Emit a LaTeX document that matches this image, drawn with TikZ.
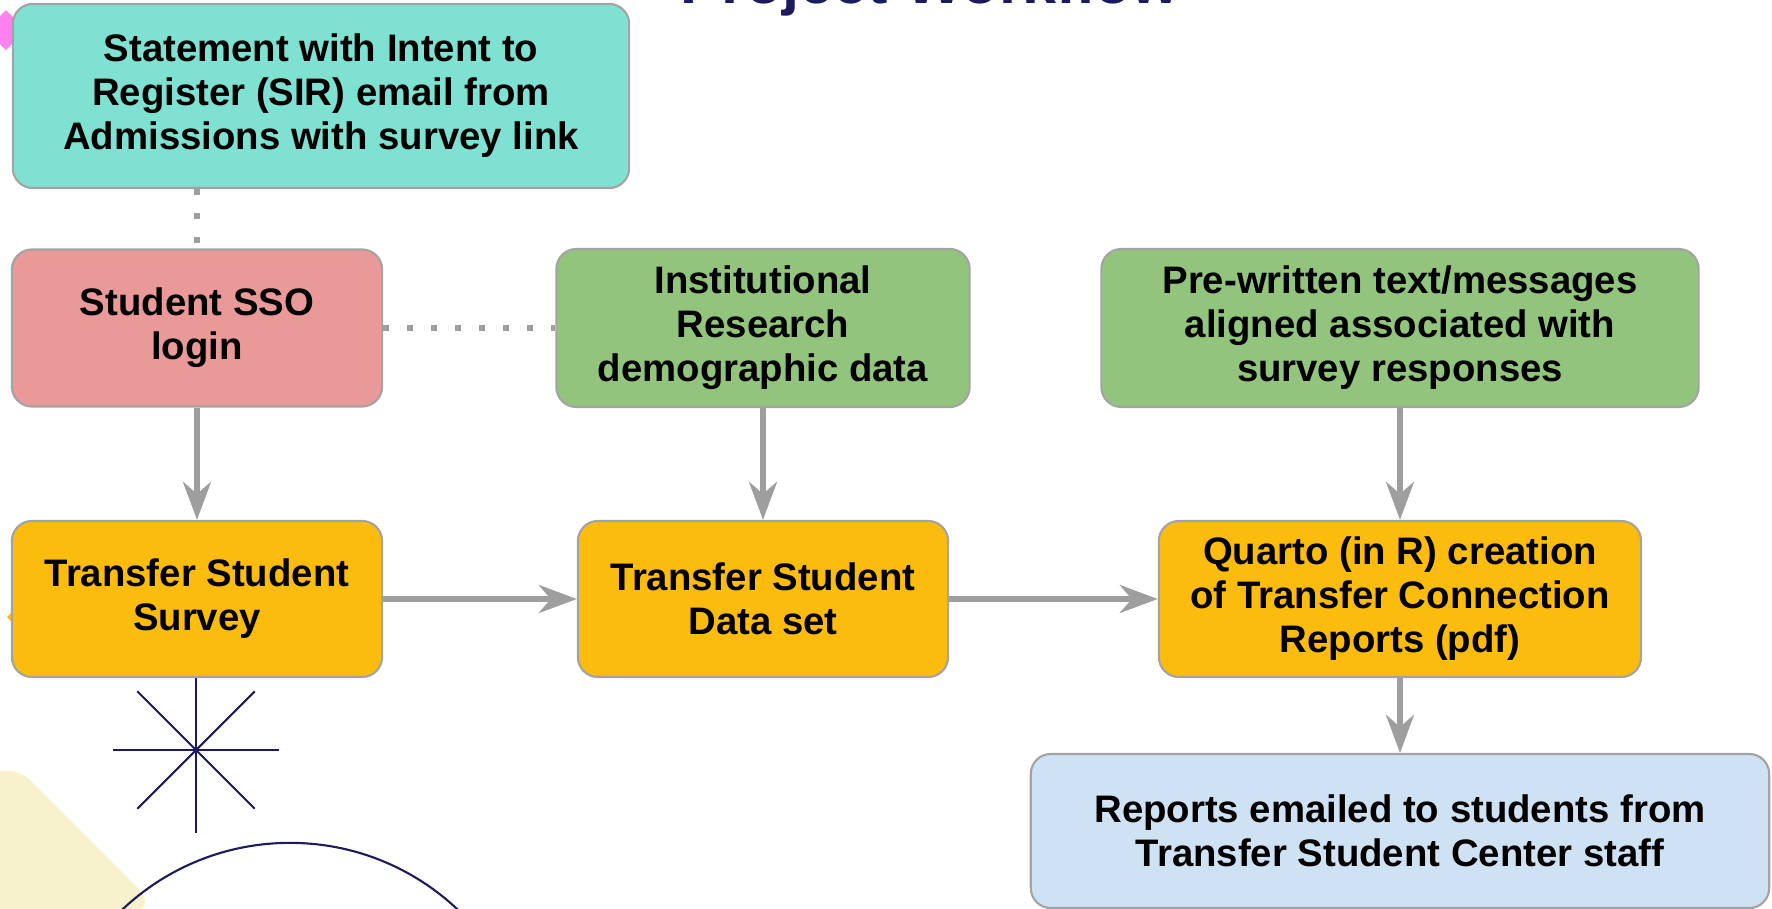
\documentclass[tikz,border=0pt]{standalone}
\usepackage{fontspec}
\setmainfont{Liberation Sans}
\usetikzlibrary{arrows.meta}

\definecolor{sirteal}{HTML}{7EE1D1}
\definecolor{ssopink}{HTML}{EA9999}
\definecolor{datagreen}{HTML}{93C47D}
\definecolor{flowyellow}{HTML}{FBBC0E}
\definecolor{mailblue}{HTML}{CFE2F3}
\definecolor{boxgray}{HTML}{A3A3A3}
\definecolor{arrowgray}{HTML}{9E9E9E}
\definecolor{decnavy}{HTML}{1C1B5E}
\definecolor{decpink}{HTML}{FF80F0}
\definecolor{decyellow}{HTML}{F7F2CC}

\begin{document}
\begin{tikzpicture}[
      x=0.01cm, y=-0.01cm,
      box/.style={rectangle, draw=boxgray, line width=0.6pt, rounded corners=0.2cm, align=center, inner sep=0pt, font=\bfseries\fontsize{10.9}{12.5}\selectfont},
      arrow/.style={-{Stealth[length=3.8mm, width=2.8mm, inset=1.2mm]}, line width=1.5pt, draw=arrowgray},
      dotline/.style={line width=0.06cm, draw=arrowgray, dash pattern=on 0.06cm off 0.18cm},
      deco/.style={draw=decnavy, line width=0.6pt}
    ]
    \useasboundingbox (0,0) rectangle (1772,909);
    \clip (0,0) rectangle (1772,909);

    % Decorations
    \fill[decpink] (6,10) -- (26,30) -- (6,50) -- (-14,30) -- cycle;
    \fill[flowyellow] (12,612) -- (17,617) -- (12,622) -- (7,617) -- cycle;
    \foreach \a in {0,45,...,315}
      \draw[deco] (196,750) -- ++(\a:83);
    \fill[decyellow, rounded corners=0.35cm] (-150,912) -- (6,756) -- (162,912) -- cycle;
    \draw[deco] (290,1087) circle[radius=2.44cm];
    \node[anchor=base, text=decnavy, font=\bfseries\fontsize{17.4}{20}\selectfont] (title) at (930,4) {Project Workflow};

    % Nodes
    \node[box, fill=sirteal, minimum width=6.16cm, minimum height=1.84cm] (sir) at (321,96)
      {Statement with Intent to\\Register (SIR) email from\\Admissions with survey link};
    \node[box, fill=ssopink, minimum width=3.7cm, minimum height=1.57cm] (sso) at (197,328)
      {Student SSO\\login};
    \node[box, fill=datagreen, minimum width=4.13cm, minimum height=1.58cm] (ir) at (763,328)
      {Institutional\\Research\\demographic data};
    \node[box, fill=datagreen, minimum width=5.97cm, minimum height=1.58cm] (pre) at (1400,328)
      {Pre-written text/messages\\aligned associated with\\survey responses};
    \node[box, fill=flowyellow, minimum width=3.7cm, minimum height=1.56cm] (survey) at (197,599)
      {Transfer Student\\Survey};
    \node[box, fill=flowyellow, minimum width=3.7cm, minimum height=1.56cm] (dataset) at (763,599)
      {Transfer Student\\Data set};
    \node[box, fill=flowyellow, minimum width=4.82cm, minimum height=1.56cm] (quarto) at (1400,599)
      {Quarto (in R) creation\\of Transfer Connection\\Reports (pdf)};
    \node[box, fill=mailblue, minimum width=7.38cm, minimum height=1.54cm] (reports) at (1400,831)
      {Reports emailed to students from\\Transfer Student Center staff};

    % Arrows
    \draw[dotline] (sso.north |- sir.south) -- (sso.north);
    \draw[dotline] (sso.east) -- (ir.west);
    \draw[arrow] (sso) -- (survey);
    \draw[arrow] (ir) -- (dataset);
    \draw[arrow] (pre) -- (quarto);
    \draw[arrow] (survey) -- (dataset);
    \draw[arrow] (dataset) -- (quarto);
    \draw[arrow] (quarto) -- (reports);

\end{tikzpicture}
\end{document}
